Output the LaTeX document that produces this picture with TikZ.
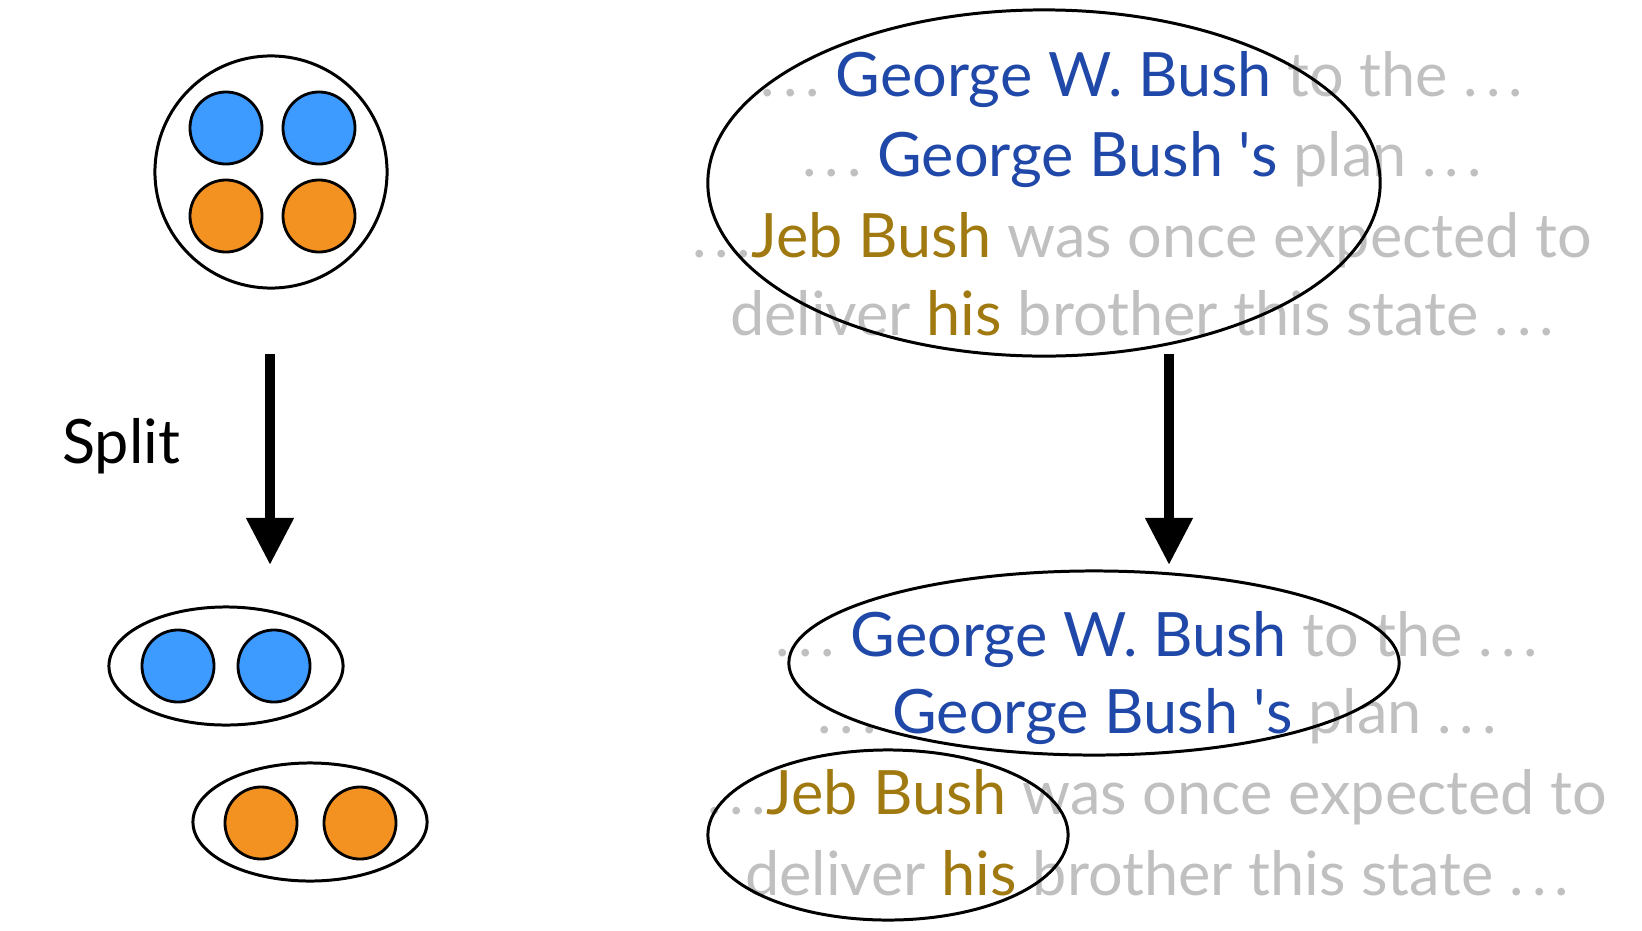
\documentclass[tikz,border=0pt]{standalone}
\usepackage{fontspec}
\setmainfont{Lato}
\usetikzlibrary{arrows.meta,shapes.geometric}
\definecolor{tokenblue}{RGB}{61,155,255}
\definecolor{tokenorange}{RGB}{243,146,32}
\definecolor{mentionblue}{RGB}{31,72,168}
\definecolor{mentiongold}{RGB}{160,122,16}
\definecolor{ctxgrey}{RGB}{192,192,192}
\newcommand{\blueword}[1]{\textcolor{mentionblue}{#1}}
\newcommand{\goldword}[1]{\textcolor{mentiongold}{#1}}
\newcommand{\spreaddots}{.\kern0.13em.\kern0.13em.}

\begin{document}
\begin{tikzpicture}[x=0.01cm,y=-0.01cm,
    bag/.style={draw,ellipse,line width=0.85pt,inner sep=0pt},
    token/.style={draw,circle,line width=0.8pt,minimum size=0.72cm,inner sep=0pt},
    sentence/.style={anchor=base,inner sep=0pt,text=ctxgrey,font=\fontsize{17.4}{20}\selectfont},
    splitarrow/.style={line width=3pt,-{Triangle[width=0.45cm,length=0.47cm]}}]
  \useasboundingbox (0,0) rectangle (1642,930);

  % left: one bag of tokens, split in two
  \node[bag,minimum width=2.32cm,minimum height=2.32cm] (bigBag) at (271,172) {};
  \node[token,fill=tokenblue]   (blueA) at (226,128) {};
  \node[token,fill=tokenblue]   (blueB) at (319,128) {};
  \node[token,fill=tokenorange] (orangeA) at (226,216) {};
  \node[token,fill=tokenorange] (orangeB) at (319,216) {};

  \coordinate (splitTop) at (270,354);
  \coordinate (splitEnd) at (270,565);
  \draw[splitarrow] (splitTop) -- (splitEnd);
  \node[anchor=base,inner sep=0pt,font=\fontsize{17.4}{20}\selectfont] (splitLbl) at (121,463) {Split};

  \node[bag,minimum width=2.34cm,minimum height=1.18cm] (blueBag) at (226,666) {};
  \node[token,fill=tokenblue] (blueC) at (178,666) {};
  \node[token,fill=tokenblue] (blueD) at (274,666) {};
  \node[bag,minimum width=2.34cm,minimum height=1.18cm] (orangeBag) at (310,822) {};
  \node[token,fill=tokenorange] (orangeC) at (261,823) {};
  \node[token,fill=tokenorange] (orangeD) at (360,823) {};

  % right: the same split on mentions in text
  \node[sentence] (topA) at (1142,96)  {\spreaddots\ \blueword{George W. Bush} to the \spreaddots};
  \node[sentence] (topB) at (1142,176) {\spreaddots\ \blueword{George Bush \textquotesingle s} plan \spreaddots};
  \node[sentence] (topC) at (1142,257) {\spreaddots\goldword{Jeb Bush} was once expected to};
  \node[sentence] (topD) at (1142,335) {deliver \goldword{his} brother this state \spreaddots};
  \node[bag,minimum width=6.72cm,minimum height=3.46cm] (topBag) at (1044,183) {};

  \coordinate (mentTop) at (1169,354);
  \coordinate (mentEnd) at (1169,565);
  \draw[splitarrow] (mentTop) -- (mentEnd);

  \node[sentence] (botA) at (1157,656) {\spreaddots\ \blueword{George W. Bush} to the \spreaddots};
  \node[sentence] (botB) at (1157,733) {\spreaddots\ \blueword{George Bush \textquotesingle s} plan \spreaddots};
  \node[sentence] (botC) at (1157,814) {\spreaddots\goldword{Jeb Bush} was once expected to};
  \node[sentence] (botD) at (1157,895) {deliver \goldword{his} brother this state \spreaddots};
  \node[bag,minimum width=6.10cm,minimum height=1.84cm] (georgeBag) at (1094,663) {};
  \node[bag,minimum width=3.60cm,minimum height=1.70cm] (jebBag) at (888,835) {};
\end{tikzpicture}
\end{document}
